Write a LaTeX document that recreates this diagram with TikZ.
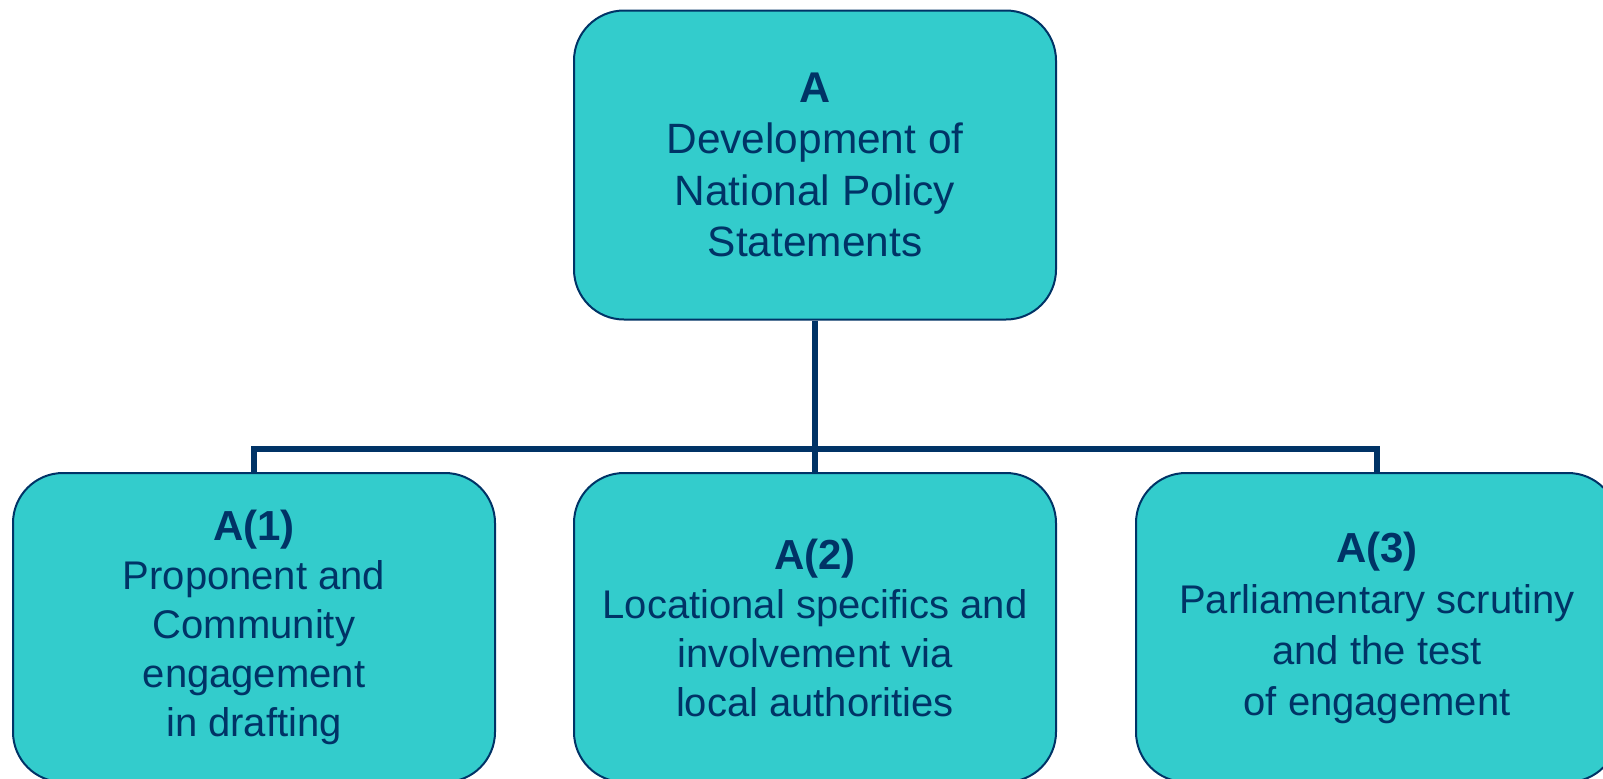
\documentclass[tikz,border=0pt]{standalone}
\usepackage{fontspec}
\setmainfont{Liberation Sans}
\definecolor{boxfill}{HTML}{33CCCC}
\definecolor{navy}{HTML}{003366}
\begin{document}
\begin{tikzpicture}[x=0.5pt,y=-0.5pt,
  box/.style={draw=navy, line width=1pt, fill=boxfill, rounded corners=25pt,
    minimum width=241pt, minimum height=154.5pt, align=center, text=navy, inner sep=0pt},
  link/.style={draw=navy, line width=3pt}]
\useasboundingbox (0,0) rectangle (1603,778);
\clip (0,0) rectangle (1603,778);
\coordinate (bar) at (815,449);
\node[box, font=\fontsize{21.2}{25.75}\selectfont] (A) at (815,165)
  {{\fontsize{21.5}{25.75}\selectfont\bfseries A}\\Development of\\National Policy\\ Statements};
\node[box, font=\fontsize{20}{24.5}\selectfont] (A1) at (254,627.5)
  {{\fontsize{21}{24.5}\selectfont\bfseries A(1)}\\Proponent and\\Community\\engagement\\ in drafting};
\node[box, font=\fontsize{20}{24.5}\selectfont] (A2) at (815,627.5)
  {{\fontsize{21}{24.5}\selectfont\bfseries A(2)}\\Locational specifics and\\involvement via\\local authorities};
\node[box, font=\fontsize{20}{25.5}\selectfont] (A3) at (1377,627.5)
  {{\fontsize{21}{25.5}\selectfont\bfseries A(3)}\\Parliamentary scrutiny\\and the test\\ of engagement};
\draw[link] (A.south) -- (A2.north);
\draw[link] (A1.north) -- (A1.north |- bar) -- (A3.north |- bar) -- (A3.north);
\end{tikzpicture}
\end{document}
